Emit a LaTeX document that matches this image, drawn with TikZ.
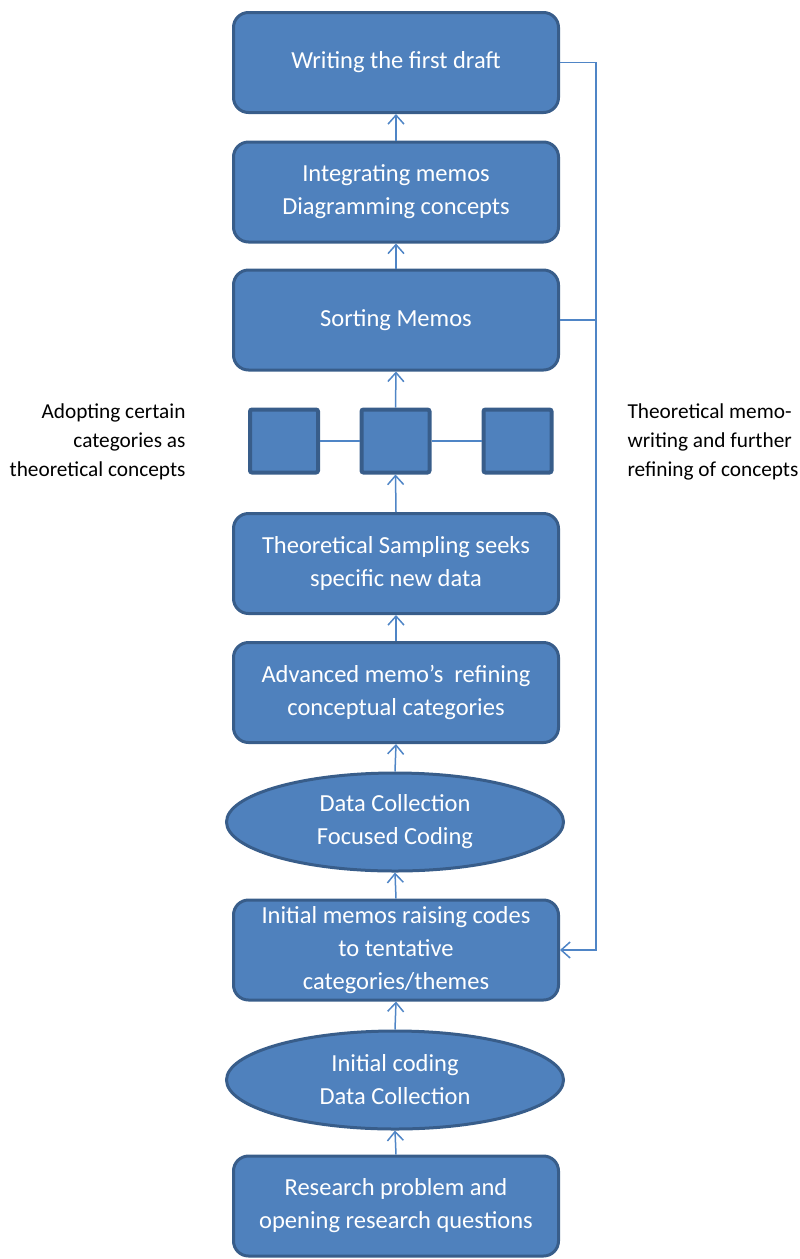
\documentclass[tikz,border=0pt]{standalone}
\usepackage{fontspec}
\setmainfont{Carlito}
\usetikzlibrary{arrows.meta,shapes.geometric}
\definecolor{boxfill}{HTML}{4F81BD}
\definecolor{boxline}{HTML}{385D8A}
\definecolor{linkcol}{HTML}{4F85C6}
\begin{document}
\begin{tikzpicture}[x=1pt,y=-1pt,
  stage/.style={draw=boxline,line width=3pt,fill=boxfill,rounded corners=15pt,
    minimum width=325pt,minimum height=100pt,text=white,align=center,
    font=\fontsize{24.5}{33}\selectfont},
  oval/.style={ellipse,draw=boxline,line width=3pt,fill=boxfill,
    minimum width=337pt,minimum height=98pt,inner sep=0pt,text=white,align=center,
    font=\fontsize{24.5}{33}\selectfont},
  cat/.style={draw=boxline,line width=4pt,fill=boxfill,rounded corners=2pt,
    minimum width=68pt,minimum height=63pt},
  link/.style={draw=linkcol,line width=1.5pt},
  up/.style={link,-{Straight Barb[length=9pt,width=16pt,line width=1.5pt]}},
  side/.style={font=\fontsize{21.3}{29}\selectfont,text=black}]
\useasboundingbox (0,0) rectangle (800,1259);

% main stages, bottom to top
\node[stage] (rp)  at (396,1206) {Research problem and\\opening research questions};
\node[oval]  (ic)  at (395,1080) {Initial coding\\Data Collection};
\node[stage] (im)  at (396,950)  {Initial memos raising codes\\to tentative\\categories/themes};
\node[oval]  (dc)  at (395,822)  {Data Collection\\Focused Coding};
\node[stage] (am)  at (396,692.5) {Advanced memo’s\ \ refining\\conceptual categories};
\node[stage] (ts)  at (396,563.5) {Theoretical Sampling seeks\\specific new data};
\node[cat]   (c1)  at (284,441) {};
\node[cat]   (c2)  at (395.5,441) {};
\node[cat]   (c3)  at (517.5,441) {};
\node[stage] (sm)  at (396,320)  {Sorting Memos};
\node[stage] (ig)  at (396,192)  {Integrating memos\\Diagramming concepts};
\node[stage] (wd)  at (396,62.5) {Writing the first draft};

% side notes
\node[side,align=right,anchor=east] (ln) at (189,442) {Adopting certain\\categories as\\theoretical concepts};
\node[side,align=left,anchor=west] (rn) at (624,442) {Theoretical memo-\\writing and further\\refining of concepts};

% upward flow
\draw[up] (rp.north) -- (ic.south);
\draw[up] (ic.north) -- (im.south);
\draw[up] (im.north) -- (dc.south);
\draw[up] (dc.north) -- (am.south);
\draw[up] (am.north) -- (ts.south);
\draw[up] (ts.north) -- (c2.south);
\draw[up] (c2.north) -- (sm.south);
\draw[up] (sm.north) -- (ig.south);
\draw[up] (ig.north) -- (wd.south);

% links between the category squares
\draw[link] (c1.east) -- (c2.west);
\draw[link] (c2.east) -- (c3.west);

% feedback loop on the right
\coordinate (rail) at (596,62.5);
\draw[up] (wd.east) -- (rail) |- (im.east);
\draw[link] (sm.east) -- (sm.east -| rail);
\end{tikzpicture}
\end{document}
